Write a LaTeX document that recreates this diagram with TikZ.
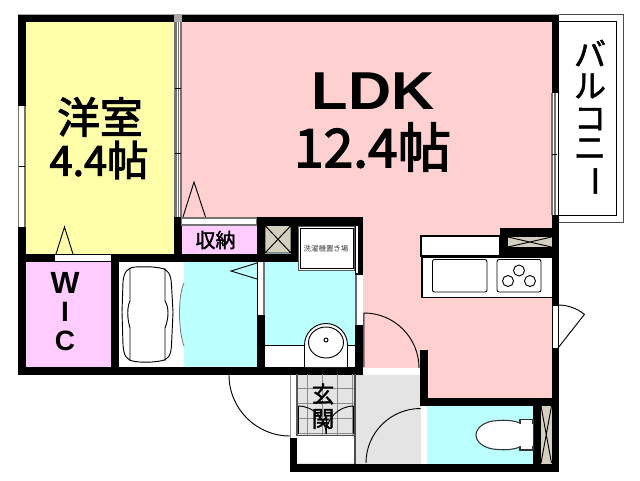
\documentclass[tikz,border=0pt]{standalone}
\usepackage{fontspec}
\usepackage{graphicx}
\setmainfont{Liberation Sans}
\newfontfamily\jp{Noto Sans CJK JP}
\newfontfamily\jpm[FakeBold=1.6]{Noto Sans CJK JP}
\newfontfamily\jph[FakeBold=2.6]{Noto Sans CJK JP}
\definecolor{cYellow}{HTML}{FFFFAA}
\definecolor{cPink}{HTML}{FFD0D0}
\definecolor{cLilac}{HTML}{FFCCFF}
\definecolor{cCyan}{HTML}{BBFFFF}
\definecolor{cEntry}{HTML}{E4E4E4}
\definecolor{cShaft}{HTML}{D4D0C0}
\definecolor{cEdge}{HTML}{A8A8A8}
\newcommand{\px}[1]{\fontsize{\the\numexpr#1*3/4\relax}{\the\numexpr#1*3/4\relax}\selectfont}
\tikzset{
  wall/.style={fill=black,draw=none},
  opening/.style={fill=white,draw=none},
  fine/.style={draw=black,line width=0.7pt},
  thin gray/.style={draw=black!55,line width=0.8pt},
  label big/.style={inner sep=0pt,text=black},
}
\begin{document}
\begin{tikzpicture}[x=0.75pt,y=-0.75pt]
\useasboundingbox (0,0) rectangle (640,480);
\fill[white] (0,0) rectangle (640,480);
% room fills
\fill[cYellow] (25,22) rectangle (175,255);
\fill[cPink] (180,22) -- (552,22) -- (552,399) -- (427,399) -- (427,350) -- (421,350) -- (421,368) -- (363,368) -- (363,218) -- (180,218) -- cycle;
\fill[cLilac] (181,225) rectangle (257,255);
\fill[cLilac] (25,261) rectangle (112,368);
\fill[cCyan] (184,261) rectangle (258,368);
\fill[cCyan] (264,253) rectangle (356,346);
\fill[cCyan] (427,405) rectangle (534,464);
\fill[cEntry] (296,374) rectangle (421,464);
\fill[cShaft] (265,225) rectangle (291,253);
\fill[cShaft] (540,405) rectangle (552,464);
% balcony
\draw[draw=black!70,line width=0.7pt,fill=white] (558,14.5) rectangle (623.5,222.5);
\draw[fine] (558,21.5) rectangle (616,215.5);
% walls
\fill[cEdge] (17.5,13.5) rectangle (559,22);
\fill[wall] (18,14.5) rectangle (559,22);
\fill[wall] (18,14.5) rectangle (25.5,375);
\fill[wall] (551.5,14.5) rectangle (559,471.5);
\fill[wall] (18,254) rectangle (298,262);
\fill[wall] (18,367) rectangle (363,375);
\fill[wall] (111,254) rectangle (119,375);
\fill[wall] (174,217) rectangle (181.5,262);
\fill[wall] (257,217) rectangle (363,225.5);
\fill[wall] (257,217) rectangle (265,375);
\fill[wall] (291,217) rectangle (298,262);
\fill[wall] (355,217) rectangle (363,375);
\fill[wall] (420,350) rectangle (428,406);
\fill[wall] (420,398) rectangle (559,406);
\fill[wall] (533,398) rectangle (541,471);
\fill[wall] (289.5,438) rectangle (297,471.5);
\fill[wall] (289.5,463.5) rectangle (559,471.5);
\fill[wall] (500,228) rectangle (559,255.5);
% shaft crosses
\fill[cShaft] (265,225.5) rectangle (291,253);
\draw[fine] (265,225.5) rectangle (291,253) (265,225.5) -- (291,253) (291,225.5) -- (265,253);
\fill[cShaft] (508,237) rectangle (551.5,247);
\draw[fine] (508,237) -- (551.5,247) (551.5,237) -- (508,247);
\draw[fine] (541,406) -- (551.5,463) (551.5,406) -- (541,463);
% openings
\fill[opening] (18.5,106) rectangle (25,227);
\draw[thin gray] (18.5,106) -- (18.5,227) (25,106) -- (25,227);
\draw[draw=black,line width=0.4pt] (19,166) -- (24.5,166);
\fill[opening] (174.5,22) rectangle (181,217);
\fill[cEdge] (174,14) rectangle (181.5,22);
\draw[thin gray] (174.5,22) -- (174.5,217) (176,22) -- (176,217) (178.5,22) -- (178.5,217) (181,22) -- (181,217);
\draw[draw=black,line width=0.4pt] (175,88) -- (181,88) (175,153) -- (181,153);
\fill[opening] (552,93) rectangle (558,215);
\draw[thin gray] (552,93) -- (552,215) (555,93) -- (555,215);
\draw[draw=black,line width=0.4pt] (552,154) -- (557,154);
\fill[opening] (181.5,218) rectangle (256.5,225);
\draw[thin gray] (181.5,218) rectangle (256.5,225);
\fill[opening] (54.5,255) rectangle (111,261);
\fill[opening] (258,262) rectangle (264,315);
\draw[thin gray] (264,262) -- (264,315);
\fill[opening] (356,226) rectangle (358,273);
\fill[opening] (356,275) rectangle (362.5,325);
\draw[draw=black!60,line width=1.6pt] (356,275) -- (356,325);
\fill[opening] (363.5,368) rectangle (420,374.5);
\fill[opening] (290,375) rectangle (296.5,438);
\draw[draw=black!40,line width=0.5pt] (290,375) -- (290,438);
\fill[opening] (421,406) rectangle (427,463);
% door leaves
\draw[fine] (56,254) -- (64.5,227) -- (73,254);
\draw[fine] (183,217) -- (194,182) -- (205.5,217);
\draw[fine] (257,263) -- (231,271) -- (257,279);
\draw[fine] (364,367) -- (364,313) arc[start angle=-90,end angle=0,radius=55];
\draw[fine] (229,375) arc[start angle=180,end angle=90,radius=61];
\draw[fine] (366,463) arc[start angle=180,end angle=270,radius=54.5];
% bath
\fill[white] (119,262) rectangle (184,367);
\fill[cCyan] (184.5,283) .. controls (178,295) and (178,330) .. (184.5,346) -- cycle;
\draw[draw=black!55,line width=0.6pt] (184,283) .. controls (178,295) and (178,330) .. (184,346);
\draw[fine] (135,267) .. controls (150,266.5) and (155,267) .. (160,268) .. controls (168,269) and (171,274) .. (171.5,285) -- (173,312) -- (171.5,345) .. controls (171,356) and (168,360) .. (160,361) .. controls (152,362.5) and (142,362.5) .. (135,361.5) .. controls (126,360) and (124,356) .. (123,345) -- (122,312) -- (123,282) .. controls (124,272) and (127,268) .. (135,267) -- cycle;
\draw[fine] (130,268) -- (130,301) .. controls (127,307) and (127,318) .. (130,328) -- (130,361);
\draw[fine] (165,268) -- (165,301) .. controls (169,307) and (169,318) .. (165,328) -- (165,361);
% washroom
\draw[draw=black!65,line width=1.2pt,fill=white] (298.5,226.5) rectangle (354.5,270.5);
\draw[draw=black,line width=0.5pt] (300.5,228) rectangle (353,268.5);
\fill[white] (265,345) rectangle (355,367);
\draw[draw=black,line width=0.6pt] (265,345) -- (355,345);
\draw[fine,fill=white] (304.5,367) -- (304.5,345) arc[start angle=180,end angle=360,radius=21.5] -- (347.5,367);
\draw[fine] (326,342.5) ellipse[x radius=17.5,y radius=15.5];
\draw[fine] (326,340) circle[radius=2];
\draw[draw=black!65,line width=0.8pt] (363.5,313) -- (363.5,367);
% entry
\begin{scope}
\clip (297,374) rectangle (355,435);
\draw[draw=black!45,line width=0.5pt] (307,374) -- (307,435) (322,374) -- (322,435) (337,374) -- (337,435) (352,374) -- (352,435);
\draw[draw=black!45,line width=0.5pt] (297,388) -- (355,388) (297,403) -- (355,403) (297,418) -- (355,418) (297,433) -- (355,433);
\end{scope}
\fill[white] (297,436) rectangle (355,463);
\draw[draw=black!70,line width=1.1pt] (297,435.5) -- (355,435.5);
\draw[draw=black!70,line width=1.1pt] (355,374) -- (355,463.5);
\draw[draw=black!65,line width=0.9pt] (297,374) -- (297,436);
\draw[fine] (298,406) arc[start angle=-90,end angle=0,radius=28] (354,406) arc[start angle=-90,end angle=-180,radius=28];
\draw[fine] (298,406) -- (298,434) (353.5,406) -- (353.5,434) (326,420) -- (326,434);
% kitchen
\draw[fine,fill=white,line width=0.9pt] (421,236) rectangle (500,256);
\fill[white] (422,257) rectangle (551.5,298);
\draw[fine,line width=0.9pt] (551.5,257) -- (422,257) -- (422,297.5) -- (551.5,297.5);
\draw[fine,rounded corners=1.5pt] (432.5,259.5) rectangle (487,292);
\draw[fine,rounded corners=1.5pt] (497,259.5) rectangle (541,292);
\draw[fine] (519,270.5) circle[radius=5.5] (508,281) circle[radius=5.5] (530,281) circle[radius=5.5];
\fill[wall] (551.5,250) rectangle (559,305);
\fill[opening] (552,305) rectangle (558,348);
\draw[fine] (552,305) rectangle (558,348);
\draw[fine] (558,305) arc[start angle=-90,end angle=-51,radius=42] -- (558,348);
% toilet
\draw[draw=black!80,line width=0.8pt,fill=white] (520,419.5) -- (533,419.5) -- (533,450) -- (520,450) -- cycle;
\draw[draw=black!80,line width=0.8pt,fill=white] (520,423) .. controls (512,420) and (505,420) .. (498,420.5) .. controls (484,421) and (476,428) .. (476,435) .. controls (476,442) and (484,449) .. (498,449.5) .. controls (505,450) and (512,450) .. (520,447) -- cycle;
\fill[white] (515,423.5) rectangle (532.5,446);
% labels
\node[inner sep=0pt,font=\bfseries\px{53}] (ldk) at (373,91) {\scalebox{1.12}[1]{LDK}};
\node[label big,font=\jph\px{53}] (ldkarea) at (372.5,147) {12.4帖};
\node[label big,font=\jph\px{42}] (yoshitsu) at (100,117) {洋室};
\node[label big,font=\jph\px{41}] (yoarea) at (99,160) {4.4帖};
\node[inner sep=0pt,font=\bfseries\px{31}] (w) at (65,283) {W};
\node[inner sep=0pt,font=\bfseries\px{28}] (i) at (65,312) {I};
\node[inner sep=0pt,font=\bfseries\px{28}] (c) at (65,341) {C};
\node[label big,font=\jpm\px{20}] (shuno) at (215.5,240) {収納};
\node[label big,font=\jpm\px{22}] (gen) at (323,394) {玄};
\node[label big,font=\jpm\px{22}] (kan) at (323,419) {関};
\node[inner sep=0pt,text=black!75,font=\jp\fontsize{5.6}{5.6}\selectfont] (sentaku) at (326,248.5) {洗濯機置き場};
\node[label big,font=\jpm\px{32}] (ba) at (590,53) {バ};
\node[label big,font=\jpm\px{32}] (ru) at (590,86) {ル};
\node[label big,font=\jpm\px{32}] (ko) at (590,119) {コ};
\node[label big,font=\jpm\px{32}] (ni) at (590,149) {ニ};
\node[label big,rotate=-90,font=\jpm\px{32}] (bar) at (590,181) {ー};
\end{tikzpicture}
\end{document}
